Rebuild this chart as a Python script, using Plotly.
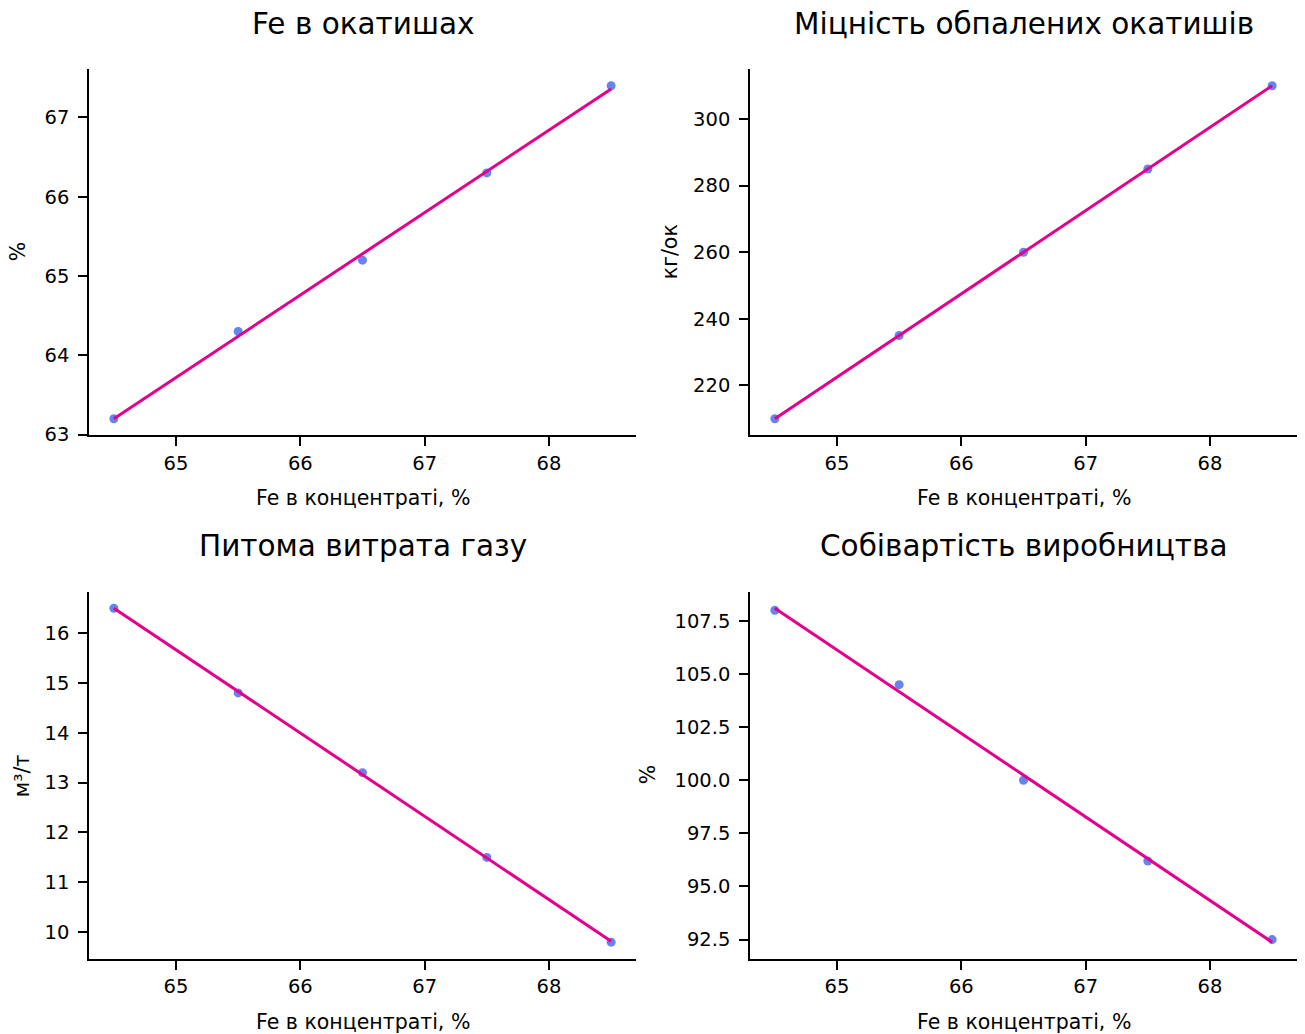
import numpy as np
import plotly.graph_objects as go

fe_conc = [64.5, 65.5, 66.5, 67.5, 68.5]
fe_pellets = [63.2, 64.3, 65.2, 66.3, 67.4]
strength = [210, 235, 260, 285, 310]
gas = [16.5, 14.8, 13.2, 11.5, 9.8]
cost = [108.0, 104.5, 100.0, 96.2, 92.5]

titles = ["Fe в окатишах", "Міцність обпалених окатишів", "Питома витрата газу", "Собівартість виробництва"]
ylabels = ["%", "кг/ок", "м³/т", "%"]
xlabel = "Fe в концентраті, %"
series = [fe_pellets, strength, gas, cost]
xticks = [65, 66, 67, 68]
yticks = [
    [63, 64, 65, 66, 67],
    [220, 240, 260, 280, 300],
    [10, 11, 12, 13, 14, 15, 16],
    [92.5, 95.0, 97.5, 100.0, 102.5, 105.0, 107.5],
]
ytext = [
    ["63", "64", "65", "66", "67"],
    ["220", "240", "260", "280", "300"],
    ["10", "11", "12", "13", "14", "15", "16"],
    ["92.5", "95.0", "97.5", "100.0", "102.5", "105.0", "107.5"],
]

W, H = 1305, 1034
px_x = [(89, 636), (750, 1297), (89, 636), (750, 1297)]
px_y = [(70, 436), (70, 436), (592, 959), (592, 959)]
ylab_off = [71, 80, 67, 102]


def py(ypx):
    # vertical pixel (target) -> paper fraction
    yc = (ypx - 1) / 0.9885
    return 1 - yc / H


FONT = "DejaVu Sans"
fig = go.Figure()
layout = dict(
    width=W, height=H, margin=dict(l=0, r=0, t=0, b=0),
    plot_bgcolor="white", paper_bgcolor="white",
    font=dict(family=FONT, color="black"), showlegend=False,
)
annotations = []
for i in range(4):
    x = np.array(fe_conc)
    y = np.array(series[i])
    k, b = np.polyfit(x, y, 1)
    yfit = k * x + b
    xs = "x" if i == 0 else f"x{i+1}"
    ys = "y" if i == 0 else f"y{i+1}"
    fig.add_trace(go.Scatter(x=x, y=y, mode="markers", xaxis=xs, yaxis=ys,
                             marker=dict(size=9, color="rgba(65,100,235,0.8)", line=dict(width=0))))
    fig.add_trace(go.Scatter(x=[x[0], x[-1]], y=[yfit[0], yfit[-1]], mode="lines", xaxis=xs, yaxis=ys,
                             line=dict(color="#e3008c", width=3)))
    lo = min(y.min(), yfit.min()); hi = max(y.max(), yfit.max())
    m = (hi - lo) * 0.05
    x0, x1 = px_x[i]; y0, y1 = px_y[i]
    axcommon = dict(showgrid=False, zeroline=False, showline=True, linecolor="black", linewidth=1.6,
                    ticks="outside", ticklen=9, tickwidth=1.6, tickcolor="black",
                    tickfont=dict(family=FONT, size=19.5, color="black"))
    layout["xaxis" if i == 0 else f"xaxis{i+1}"] = dict(
        domain=[x0 / W, x1 / W], anchor=ys, range=[64.3, 68.7],
        tickvals=xticks, ticktext=[str(t) for t in xticks], **axcommon)
    layout["yaxis" if i == 0 else f"yaxis{i+1}"] = dict(
        domain=[py(y1), py(y0)], anchor=xs, range=[lo - m, hi + m],
        tickvals=yticks[i], ticktext=ytext[i], ticklabelstandoff=5, **axcommon)
    cx = (x0 + x1) / 2
    annotations.append(dict(text=titles[i], x=cx / W, y=py(y0 - 45), xref="paper", yref="paper",
                            showarrow=False, font=dict(family=FONT, size=29.5, color="black"),
                            xanchor="center", yanchor="middle"))
    annotations.append(dict(text=xlabel, x=cx / W, y=py(y1 + 63), xref="paper", yref="paper",
                            showarrow=False, font=dict(family=FONT, size=20.5, color="black"),
                            xanchor="center", yanchor="middle"))
    annotations.append(dict(text=ylabels[i], x=(x0 - ylab_off[i]) / W, y=py((y0 + y1) / 2),
                            xref="paper", yref="paper",
                            showarrow=False, textangle=-90, font=dict(family=FONT, size=20.5, color="black"),
                            xanchor="center", yanchor="middle"))
layout["annotations"] = annotations
fig.update_layout(**layout)
fig.write_html("out.html")
